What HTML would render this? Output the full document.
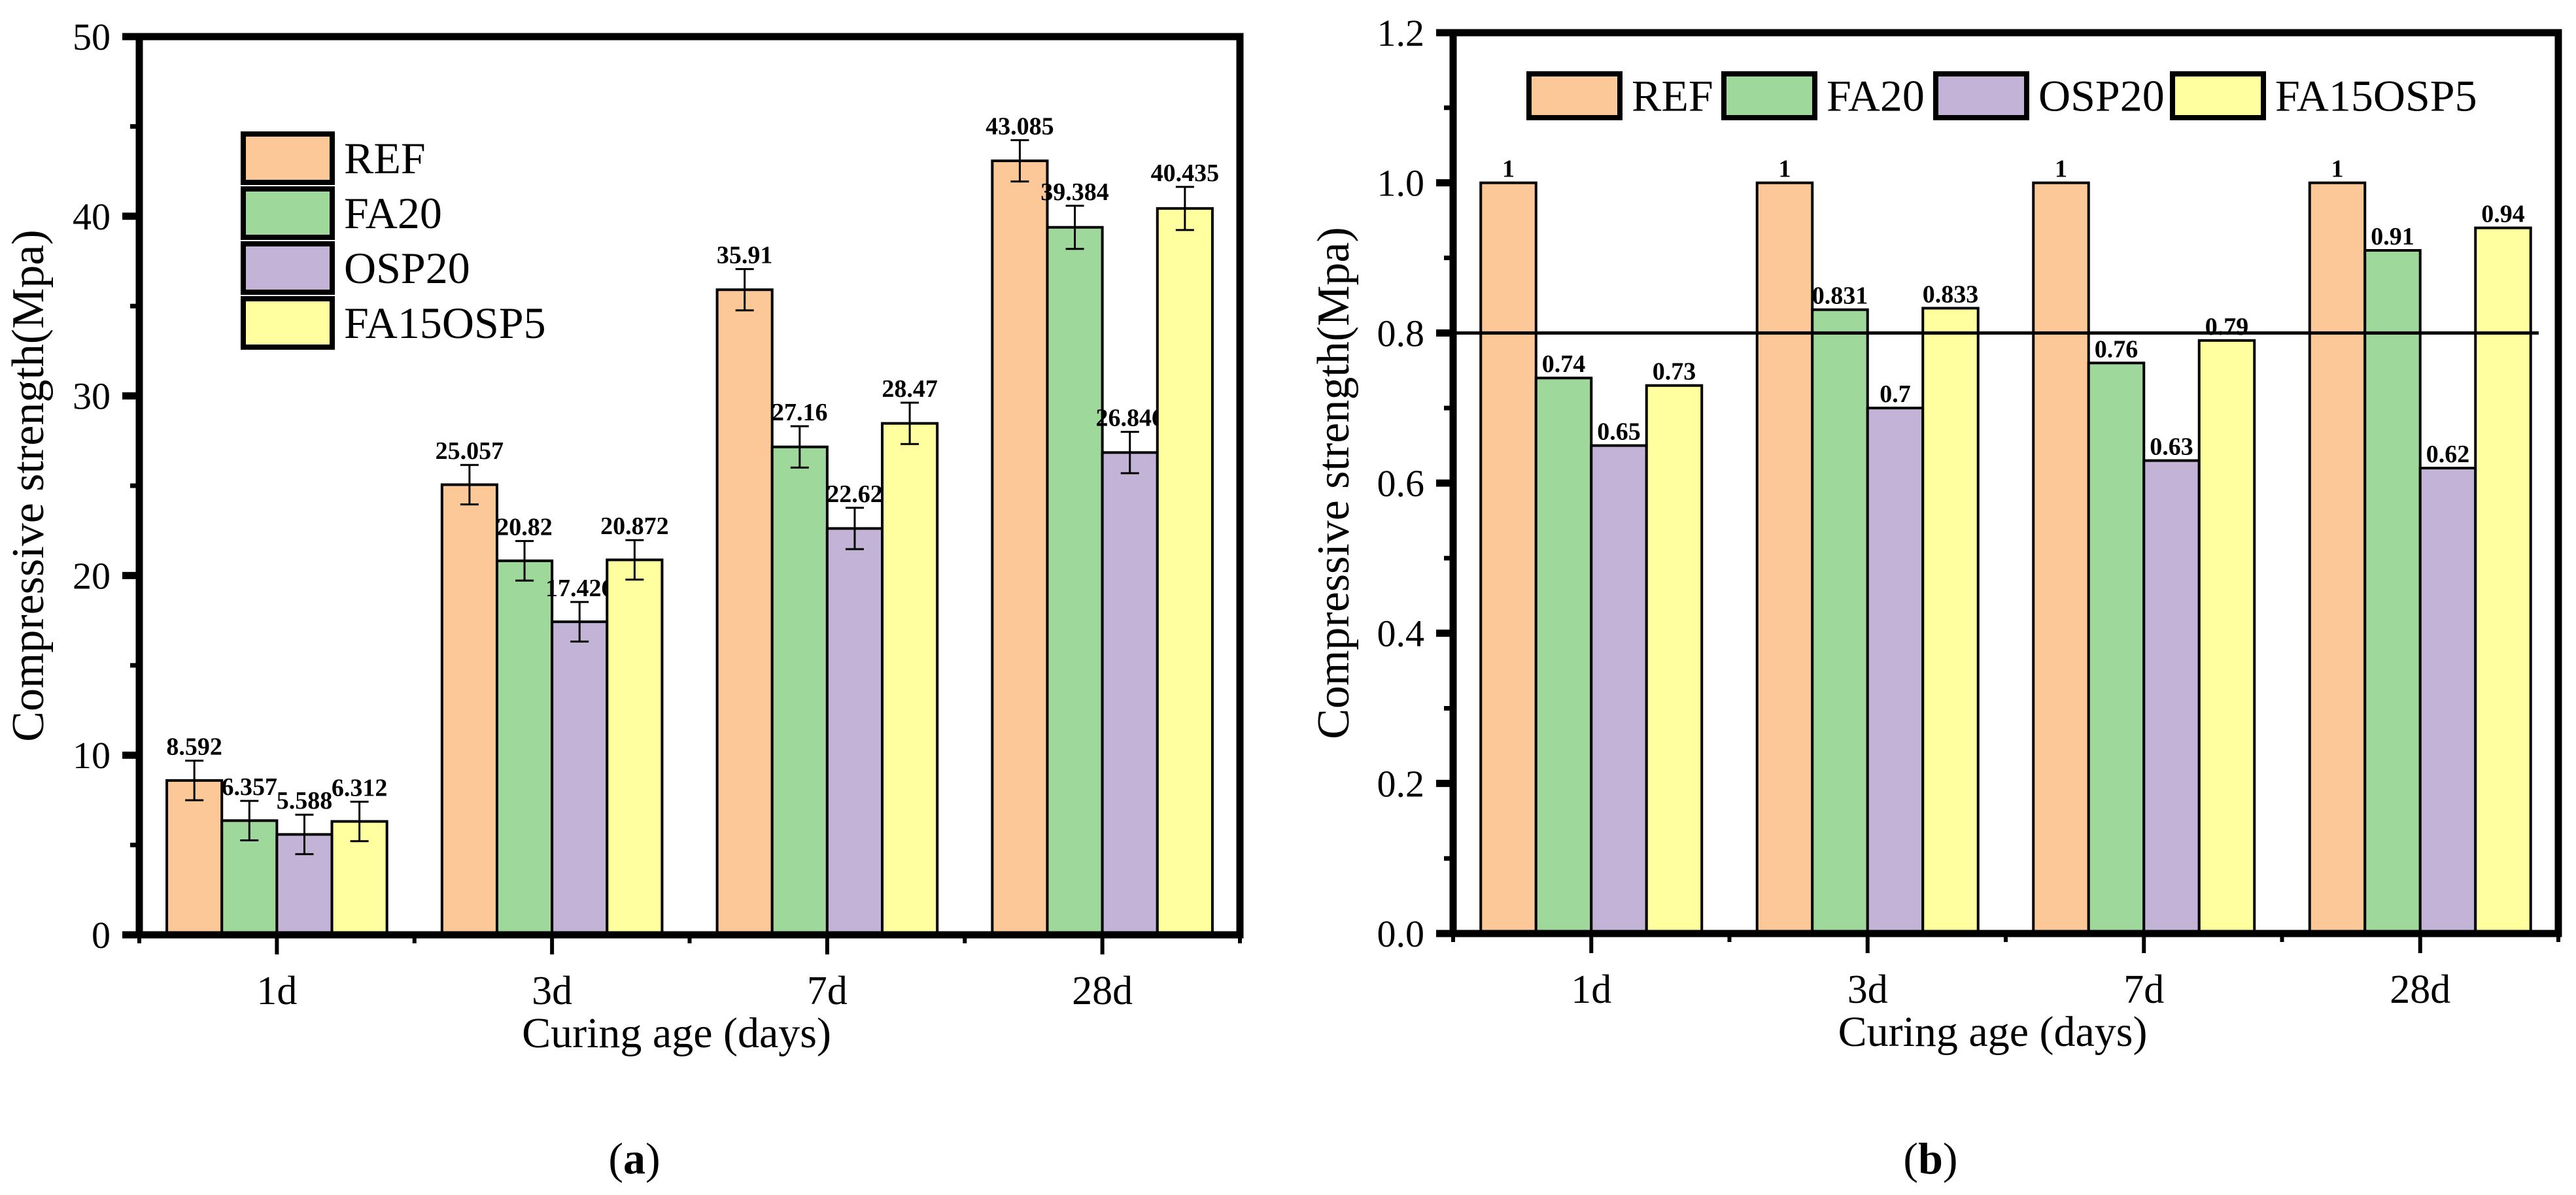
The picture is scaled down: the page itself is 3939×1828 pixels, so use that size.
<!DOCTYPE html>
<html><head><meta charset="utf-8">
<style>
html,body{margin:0;padding:0;background:#fff;}
svg{display:block;}
text{font-family:"Liberation Serif","Times New Roman",serif;fill:#000;}
</style></head>
<body>
<svg id="fig" width="3939" height="1828" viewBox="0 0 3939 1828" xmlns="http://www.w3.org/2000/svg">
<rect width="3939" height="1828" fill="#fff"/>
<g id="chartA"></g>
<g id="chartB"></g>
</svg>
<script>
const categories = ["1d","3d","7d","28d"];
const seriesNames = ["REF","FA20","OSP20","FA15OSP5"];
const seriesColors = ["#FCC897","#9FD89B","#C3B3D7","#FFFF9F"];
const strengthREF = [8.592,25.057,35.91,43.085];
const strengthFA20 = [6.357,20.82,27.16,39.384];
const strengthOSP20 = [5.588,17.426,22.62,26.846];
const strengthFA15OSP5 = [6.312,20.872,28.47,40.435];
const errREF = [1.1,1.1,1.15,1.15];
const errFA20 = [1.1,1.1,1.15,1.2];
const errOSP20 = [1.1,1.1,1.15,1.15];
const errFA15OSP5 = [1.1,1.1,1.15,1.2];
const labelsA = [["8.592","25.057","35.91","43.085"],["6.357","20.82","27.16","39.384"],["5.588","17.426","22.62","26.846"],["6.312","20.872","28.47","40.435"]];
const ratioREF = [1,1,1,1];
const ratioFA20 = [0.74,0.831,0.76,0.91];
const ratioOSP20 = [0.65,0.7,0.63,0.62];
const ratioFA15OSP5 = [0.73,0.833,0.79,0.94];
const labelsB = [["1","1","1","1"],["0.74","0.831","0.76","0.91"],["0.65","0.7","0.63","0.62"],["0.73","0.833","0.79","0.94"]];
const ticksA = [0,10,20,30,40,50];
const ticksB = [0,0.2,0.4,0.6,0.8,1.0,1.2];
const tickLabelsB = ["0.0","0.2","0.4","0.6","0.8","1.0","1.2"];
const refLineB = 0.8;

const NS="http://www.w3.org/2000/svg";
function mk(parent,tag,attrs,txt){const e=document.createElementNS(NS,tag);for(const k in attrs)e.setAttribute(k,attrs[k]);if(txt!==undefined)e.textContent=txt;parent.appendChild(e);return e;}

function drawChart(g,cfg){
  const L=cfg.left,R=cfg.right,T=cfg.top,B=cfg.bottom;
  const y=v=>B-(v-cfg.ymin)/(cfg.ymax-cfg.ymin)*(B-T);
  const cw=(R-L)/cfg.cats.length;
  const bw=cw*0.8/cfg.series.length;
  const x=(ci,si)=>L+ci*cw+cw*0.1+si*bw;
  cfg.series.forEach((vals,si)=>{
    vals.forEach((v,ci)=>{
      const r=mk(g,'rect',{x:x(ci,si),y:y(v),width:bw,height:B-y(v),fill:seriesColors[si],stroke:'#000','stroke-width':4});
      
      
      let topY=y(v);
      if(cfg.errs){
        const e=cfg.errs[si][ci];const cx=x(ci,si)+bw/2;
        const eg=mk(g,'g',{stroke:'#000','stroke-width':3});
        
        
        mk(eg,'line',{x1:cx,x2:cx,y1:y(v+e),y2:y(v-e)});
        mk(eg,'line',{x1:cx-14,x2:cx+14,y1:y(v+e),y2:y(v+e)});
        mk(eg,'line',{x1:cx-14,x2:cx+14,y1:y(v-e),y2:y(v-e)});
        topY=y(v+e);
      }
      const t=mk(g,'text',{x:x(ci,si)+bw/2,y:topY-9,'text-anchor':'middle','font-size':38,'font-weight':'bold'},cfg.labels[si][ci]);
      
      
    });
  });
  if(cfg.refLine!==undefined){
    const l=mk(g,'line',{x1:L,x2:cfg.refEnd,y1:y(cfg.refLine),y2:y(cfg.refLine),stroke:'#000','stroke-width':5});
    
    
  }
  const f=mk(g,'rect',{x:L,y:T,width:R-L,height:B-T,fill:'none',stroke:'#000','stroke-width':11});
  
  
  const yt=mk(g,'g',{});
  
  
  cfg.ticks.forEach((tv,i)=>{
    mk(yt,'line',{x1:L-26,x2:L,y1:y(tv),y2:y(tv),stroke:'#000','stroke-width':11});
    mk(yt,'text',{x:L-44,y:y(tv)+20,'text-anchor':'end','font-size':58},cfg.tickLabels[i]);
    if(i<cfg.ticks.length-1){const mv=(tv+cfg.ticks[i+1])/2;mk(yt,'line',{x1:L-14,x2:L,y1:y(mv),y2:y(mv),stroke:'#000','stroke-width':7});}
  });
  const xt=mk(g,'g',{});
  
  
  for(let i=0;i<=cfg.cats.length;i++){mk(xt,'line',{x1:L+i*cw,x2:L+i*cw,y1:B,y2:B+13,stroke:'#000','stroke-width':6});}
  cfg.cats.forEach((c,ci)=>{
    const cx=L+ci*cw+cw/2;
    mk(xt,'line',{x1:cx,x2:cx,y1:B,y2:B+30,stroke:'#000','stroke-width':6});
    mk(xt,'text',{x:cx,y:B+106,'text-anchor':'middle','font-size':62},c);
  });
  const xtTitle=mk(g,'text',{x:(L+R)/2-20,y:B+172,'text-anchor':'middle','font-size':66},'Curing age (days)');
  
  
  const yc=(T+B)/2, yx=cfg.ytitleX;
  const ytTitle=mk(g,'text',{x:yx,y:yc,'text-anchor':'middle','font-size':70,transform:'rotate(-90 '+yx+' '+yc+')'},'Compressive strength(Mpa)');
  
  
  const lg=mk(g,'g',{});
  
  
  cfg.legend.forEach((p,si)=>{
    const eg=mk(lg,'g',{});
    
    
    mk(eg,'rect',{x:p[0],y:p[1],width:cfg.legW,height:cfg.legH,fill:seriesColors[si],stroke:'#000','stroke-width':8});
    mk(eg,'text',{x:p[0]+cfg.legW+18,y:p[1]+cfg.legH/2+23,'font-size':68},seriesNames[si]);
  });
  const pl=mk(g,'text',{x:cfg.panelX,y:1795,'text-anchor':'middle','font-size':68},'');
  
  
  mk(pl,'tspan',{},'(');mk(pl,'tspan',{'font-weight':'bold'},cfg.panel);mk(pl,'tspan',{},')');
}

drawChart(document.getElementById('chartA'),{
  left:213,right:1896,top:56,bottom:1430,ymin:0,ymax:50,
  cats:categories,series:[strengthREF,strengthFA20,strengthOSP20,strengthFA15OSP5],
  errs:[errREF,errFA20,errOSP20,errFA15OSP5],labels:labelsA,
  ticks:ticksA,tickLabels:ticksA.map(String),ytitleX:66,
  legend:[[372,205],[372,289],[372,373],[372,457]],legW:136,legH:74,panel:'a',panelX:970
});
drawChart(document.getElementById('chartB'),{
  left:2222,right:3912,top:50,bottom:1428,ymin:0,ymax:1.2,
  cats:categories,series:[ratioREF,ratioFA20,ratioOSP20,ratioFA15OSP5],
  labels:labelsB,ticks:ticksB,tickLabels:tickLabelsB,ytitleX:2062,
  refLine:refLineB,refEnd:3882,
  legend:[[2338,113],[2636,113],[2960,113],[3322,113]],legW:139,legH:67,panel:'b',panelX:2952
});
</script>
</body></html>
